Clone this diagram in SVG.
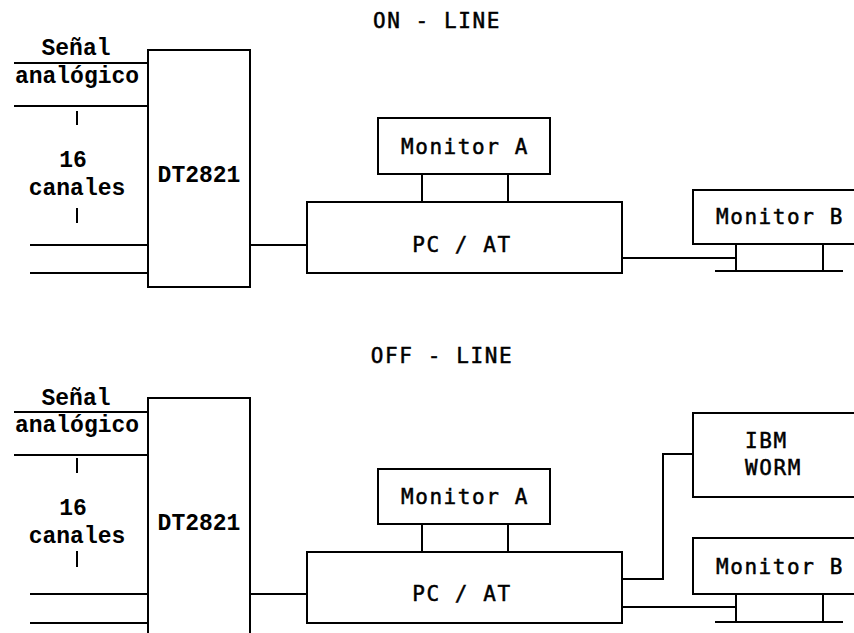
<svg xmlns="http://www.w3.org/2000/svg" width="854" height="633" viewBox="0 0 854 633">
<style>
.box{fill:none;stroke:#000;stroke-width:2}
.ln{fill:none;stroke:#000;stroke-width:2}
.s{font-family:"DejaVu Sans Mono","Liberation Mono",monospace;font-size:21px;letter-spacing:1.6px;fill:#000;stroke:#000;stroke-width:0.5}
.b{font-family:"Liberation Mono","DejaVu Sans Mono",monospace;font-size:23px;font-weight:bold;fill:#000}
.m{text-anchor:middle}
</style>
<rect width="854" height="633" fill="#fff"/>

<!-- ON-LINE section -->
<text id="title-on" class="s m" x="437" y="28">ON - LINE</text>

<g id="input-top">
<text class="b m" x="76" y="55">Señal</text>
<text class="b m" x="77" y="83">analógico</text>
<text class="b m" x="73" y="167">16</text>
<text class="b m" x="77" y="195">canales</text>
<line class="ln" x1="77" y1="111" x2="77" y2="125"/>
<line class="ln" x1="77" y1="208" x2="77" y2="223"/>
</g>

<g id="dt2821-top">
<rect class="box" x="148" y="50" width="102" height="237"/>
<text class="b m" x="199" y="182">DT2821</text>
</g>

<g id="monitorA-top">
<rect class="box" x="378" y="118" width="172" height="56"/>
<text class="s m" x="465" y="154">Monitor A</text>
</g>

<g id="pcat-top">
<rect class="box" x="307" y="202" width="315" height="71"/>
<text class="s m" x="462" y="252">PC / AT</text>
</g>

<g id="monitorB-top">
<rect class="box" x="693" y="190" width="170" height="54"/>
<text class="s m" x="780" y="224">Monitor B</text>
<line class="ln" x1="736" y1="244" x2="736" y2="271"/>
<line class="ln" x1="823" y1="244" x2="823" y2="271"/>
<line class="ln" x1="715" y1="271" x2="843" y2="271"/>
</g>

<!-- OFF-LINE section -->
<text id="title-off" class="s m" x="442" y="363">OFF - LINE</text>

<g id="input-bottom">
<text class="b m" x="76" y="405">Señal</text>
<text class="b m" x="77" y="432">analógico</text>
<text class="b m" x="73" y="515">16</text>
<text class="b m" x="77" y="543">canales</text>
<line class="ln" x1="77" y1="458" x2="77" y2="473"/>
<line class="ln" x1="77" y1="551" x2="77" y2="567"/>
</g>

<g id="dt2821-bottom">
<rect class="box" x="148" y="398" width="102" height="250"/>
<text class="b m" x="199" y="530">DT2821</text>
</g>

<g id="monitorA-bottom">
<rect class="box" x="378" y="469" width="172" height="55"/>
<text class="s m" x="465" y="504">Monitor A</text>
</g>

<g id="pcat-bottom">
<rect class="box" x="307" y="552" width="315" height="71"/>
<text class="s m" x="462" y="601">PC / AT</text>
</g>

<g id="worm-bottom">
<rect class="box" x="693" y="413" width="170" height="84"/>
<text class="s" x="745" y="448">IBM</text>
<text class="s" x="745" y="475">WORM</text>
</g>

<g id="monitorB-bottom">
<rect class="box" x="693" y="538" width="170" height="56"/>
<text class="s m" x="780" y="574">Monitor B</text>
<line class="ln" x1="736" y1="594" x2="736" y2="622"/>
<line class="ln" x1="823" y1="594" x2="823" y2="622"/>
<line class="ln" x1="715" y1="622" x2="843" y2="622"/>
</g>

<g id="connectors">
<!-- top -->
<line class="ln" x1="14" y1="63" x2="148" y2="63"/>
<line class="ln" x1="14" y1="106" x2="148" y2="106"/>
<line class="ln" x1="30" y1="245" x2="148" y2="245"/>
<line class="ln" x1="30" y1="273" x2="148" y2="273"/>
<line class="ln" x1="250" y1="245" x2="307" y2="245"/>
<line class="ln" x1="422" y1="174" x2="422" y2="202"/>
<line class="ln" x1="508" y1="174" x2="508" y2="202"/>
<line class="ln" x1="622" y1="258" x2="736" y2="258"/>
<!-- bottom -->
<line class="ln" x1="14" y1="412" x2="148" y2="412"/>
<line class="ln" x1="14" y1="455" x2="148" y2="455"/>
<line class="ln" x1="30" y1="594" x2="148" y2="594"/>
<line class="ln" x1="30" y1="623" x2="148" y2="623"/>
<line class="ln" x1="250" y1="594" x2="307" y2="594"/>
<line class="ln" x1="422" y1="524" x2="422" y2="552"/>
<line class="ln" x1="508" y1="524" x2="508" y2="552"/>
<polyline class="ln" points="622,579 663,579 663,454 693,454"/>
<line class="ln" x1="622" y1="607" x2="736" y2="607"/>
</g>
</svg>
